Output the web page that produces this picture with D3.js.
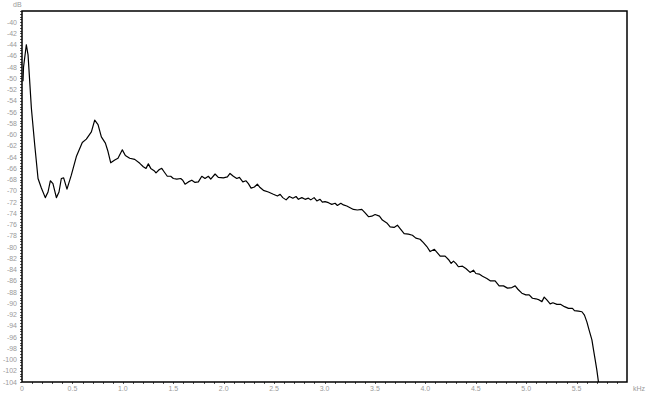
<!DOCTYPE html>
<html lang="en">
<head>
    <meta charset="UTF-8">
    <title>Spectrum</title>
    <script src="https://d3js.org/d3.v7.min.js"></script>
    <style>
        body { margin: 0; background: #fff; }
        .tick-label { font-family: "Liberation Sans", Arial, sans-serif; font-size: 7px; fill: #9a9a9a; }
        .frame { fill: none; stroke: #000; stroke-width: 1.5px; }
        .curve { fill: none; stroke: #000; stroke-width: 1.2px; stroke-linejoin: round; }
        .minor { stroke: #555; stroke-width: 1px; }
    </style>
</head>
<body>
<div id="chart"></div>
<script>
    // frequency (kHz) of each spectrum point
    const freqKHz = [
        0.01, 0.015, 0.043, 0.06, 0.093, 0.126, 0.159, 0.192, 0.231, 0.258,
        0.281, 0.307, 0.341, 0.367, 0.39, 0.413, 0.446, 0.489, 0.539, 0.598,
        0.638, 0.688, 0.721, 0.754, 0.787, 0.827, 0.853, 0.88, 0.92, 0.952,
        0.995, 1.025, 1.068, 1.118, 1.168, 1.203, 1.23, 1.253, 1.277, 1.31,
        1.329, 1.362, 1.386, 1.409, 1.441, 1.475, 1.501, 1.535, 1.574, 1.594,
        1.617, 1.65, 1.684, 1.716, 1.749, 1.783, 1.815, 1.848, 1.872, 1.915,
        1.947, 1.997, 2.037, 2.063, 2.096, 2.13, 2.156, 2.19, 2.222, 2.245,
        2.272, 2.305, 2.334, 2.361, 2.394, 2.443, 2.493, 2.533, 2.56, 2.586,
        2.619, 2.652, 2.686, 2.718, 2.741, 2.775, 2.808, 2.84, 2.864, 2.897,
        2.924, 2.956, 2.979, 3.006, 3.039, 3.072, 3.105, 3.128, 3.162, 3.188,
        3.221, 3.254, 3.287, 3.326, 3.37, 3.403, 3.436, 3.469, 3.502, 3.545,
        3.574, 3.618, 3.651, 3.69, 3.723, 3.75, 3.79, 3.832, 3.872, 3.906,
        3.948, 3.981, 4.015, 4.048, 4.09, 4.124, 4.147, 4.196, 4.229, 4.256,
        4.279, 4.303, 4.328, 4.368, 4.402, 4.444, 4.477, 4.501, 4.534, 4.567,
        4.61, 4.643, 4.692, 4.732, 4.775, 4.815, 4.858, 4.891, 4.918, 4.957,
        4.997, 5.03, 5.062, 5.096, 5.129, 5.156, 5.179, 5.205, 5.238, 5.265,
        5.305, 5.344, 5.38, 5.42, 5.459, 5.479, 5.519, 5.553, 5.578, 5.602,
        5.625, 5.652, 5.668, 5.685, 5.701, 5.717
    ];

    // level (dB) at each frequency
    const levelDb = [
        -50.5, -48.0, -44.0, -45.8, -55.3, -61.8, -67.8, -69.5, -71.2, -70.2,
        -68.2, -68.7, -71.2, -70.2, -67.8, -67.7, -69.7, -67.2, -63.9, -61.4,
        -60.8, -59.5, -57.4, -58.2, -60.4, -61.5, -63.0, -65.0, -64.5, -64.2,
        -62.7, -63.7, -64.2, -64.4, -65.1, -65.7, -66.0, -65.2, -66.0, -66.4,
        -66.8, -66.2, -66.0, -66.6, -67.4, -67.4, -67.8, -67.9, -67.8, -68.1,
        -68.8, -68.4, -68.1, -68.5, -68.4, -67.4, -67.8, -67.4, -67.9, -67.0,
        -67.6, -67.7, -67.5, -66.9, -67.4, -67.8, -67.6, -68.4, -68.2, -68.7,
        -69.5, -69.3, -68.8, -69.4, -69.9, -70.2, -70.6, -70.9, -70.6, -71.2,
        -71.6, -71.0, -71.3, -71.0, -71.5, -71.2, -71.5, -71.3, -71.6, -71.2,
        -71.8, -71.5, -72.0, -71.9, -72.1, -72.4, -72.2, -72.6, -72.2, -72.5,
        -72.7, -73.0, -73.3, -73.4, -73.3, -73.9, -74.6, -74.5, -74.2, -74.5,
        -75.2, -75.7, -76.4, -76.5, -76.1, -76.7, -77.6, -77.7, -77.9, -78.4,
        -78.6, -79.2, -79.9, -80.8, -80.4, -81.1, -81.6, -81.6, -82.2, -82.9,
        -82.5, -82.9, -83.5, -83.4, -83.8, -84.5, -84.1, -84.7, -84.8, -85.2,
        -85.6, -86.0, -86.0, -86.9, -86.9, -87.3, -87.2, -86.9, -87.5, -88.2,
        -88.5, -88.5, -89.1, -89.2, -89.4, -89.7, -88.9, -89.4, -90.1, -89.9,
        -90.2, -90.2, -90.6, -90.9, -90.9, -91.3, -91.4, -91.5, -92.1, -93.3,
        -94.8, -96.5, -98.3, -100.1, -101.9, -104.0
    ];

    // axis ticks
    const xTickValues = [0, 0.5, 1.0, 1.5, 2.0, 2.5, 3.0, 3.5, 4.0, 4.5, 5.0, 5.5];
    const xTickLabels = ["0", "0.5", "1.0", "1.5", "2.0", "2.5", "3.0", "3.5", "4.0", "4.5", "5.0", "5.5"];
    const yTickValues = d3.range(-40, -105, -2);

    const width = 655, height = 395;
    const plotLeft = 22, plotRight = 627, plotTop = 11, plotBottom = 382;

    const x = d3.scaleLinear().domain([0, 6]).range([plotLeft, plotRight]);
    const y = d3.scaleLinear().domain([-104, -38]).range([plotBottom, plotTop]);

    const svg = d3.select('#chart').append('svg')
        .attr('width', width)
        .attr('height', height);

    svg.append('defs').append('clipPath').attr('id', 'plot')
        .append('rect')
        .attr('x', plotLeft).attr('y', plotTop)
        .attr('width', plotRight - plotLeft).attr('height', plotBottom - plotTop);

    // minor ticks on the bottom axis (every 0.1 kHz)
    svg.append('g')
        .selectAll('line')
        .data(d3.range(1, 60).map(i => i / 10))
        .enter().append('line')
        .attr('class', 'minor')
        .attr('x1', d => Math.round(x(d)) + 0.5)
        .attr('x2', d => Math.round(x(d)) + 0.5)
        .attr('y1', plotBottom)
        .attr('y2', plotBottom + 2);

    // minor ticks on the left axis (every 0.5 dB)
    svg.append('g')
        .selectAll('line')
        .data(d3.range(-104, -37.9, 0.5))
        .enter().append('line')
        .attr('class', 'minor')
        .attr('x1', plotLeft - 2)
        .attr('x2', plotLeft)
        .attr('y1', d => Math.round(y(d)) + 0.5)
        .attr('y2', d => Math.round(y(d)) + 0.5);

    // y labels
    svg.append('g')
        .selectAll('text')
        .data(yTickValues)
        .enter().append('text')
        .attr('class', 'tick-label')
        .attr('x', 17)
        .attr('y', d => y(d) + 2.5)
        .attr('text-anchor', 'end')
        .text(d => d);

    // x labels
    svg.append('g')
        .selectAll('text')
        .data(xTickValues)
        .enter().append('text')
        .attr('class', 'tick-label')
        .attr('x', d => x(d))
        .attr('y', 391)
        .attr('text-anchor', 'middle')
        .text((d, i) => xTickLabels[i]);

    svg.append('text').attr('class', 'tick-label')
        .attr('x', 13).attr('y', 7).text('dB');
    svg.append('text').attr('class', 'tick-label')
        .attr('x', 633).attr('y', 391).text('kHz');

    // spectrum curve
    const line = d3.line()
        .x(d => x(d[0]))
        .y(d => y(d[1]));

    svg.append('path')
        .datum(d3.zip(freqKHz, levelDb))
        .attr('class', 'curve')
        .attr('clip-path', 'url(#plot)')
        .attr('d', line);

    // plot frame
    svg.append('rect')
        .attr('class', 'frame')
        .attr('x', plotLeft).attr('y', plotTop)
        .attr('width', plotRight - plotLeft).attr('height', plotBottom - plotTop);
</script>
</body>
</html>
